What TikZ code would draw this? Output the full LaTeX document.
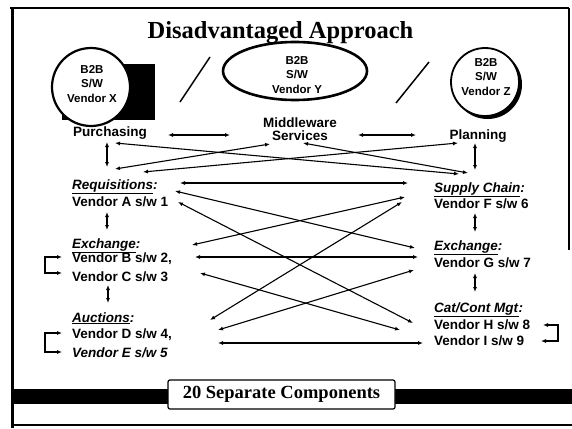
\documentclass[tikz,border=0pt]{standalone}
\usepackage{fontspec}
\setmainfont{Liberation Serif}
\setsansfont{Liberation Sans}
\usetikzlibrary{arrows.meta}
\begin{document}
\begin{tikzpicture}[x=1pt,y=-1pt,
  lbl/.style={font=\sffamily\bfseries\fontsize{13.5}{15}\selectfont, inner sep=0pt, anchor=base west},
  ctr/.style={font=\sffamily\bfseries\fontsize{13.5}{13.5}\selectfont, inner sep=0pt, align=center},
  bub/.style={font=\sffamily\bfseries\fontsize{11.5}{14.5}\selectfont, align=center, inner sep=0pt},
  arr/.style={{Latex[length=5pt,width=4pt]}-{Latex[length=5pt,width=4pt]}, line width=1.1pt},
  brk/.style={{Latex[length=5pt,width=4pt]}-{Latex[length=5pt,width=4pt]}, line width=1.1pt},
  frame/.style={line width=1.6pt}
]
\useasboundingbox (0,0) rectangle (572,428);
\fill[white] (0,0) rectangle (572,428);

% frame
\draw[line width=3pt] (12,8) -- (12,428);
\draw[line width=2pt] (10,8) -- (569,8);
\draw[frame] (569,8) -- (569,250);
\draw[line width=1.2pt] (12,425) -- (572,425);

% bottom bar and box
\fill[black] (12,389) rectangle (572,404);
\node[draw, line width=1.2pt, fill=white, rounded corners=2pt, minimum width=227pt, minimum height=29pt,
      font=\rmfamily\bfseries\fontsize{18.5}{20}\selectfont, inner sep=0pt] (comp) at (281.5,394.5) {20 Separate Components};

% title
\node[font=\rmfamily\bfseries\fontsize{24.5}{28}\selectfont, inner sep=0pt, anchor=base] (title) at (280.5,38) {Disadvantaged Approach};

% bubbles
\fill[black] (62,64) rectangle (155,120);
\node[draw, line width=2.2pt, fill=white, circle, minimum size=78pt, inner sep=0pt] (cx) at (91,87) {};
\node[bub] (cxt) at (92,84) {B2B\\S/W\\Vendor X};

\draw[line width=2.6pt] (295,71) ellipse [x radius=72, y radius=29];
\node[bub] (cyt) at (297,75) {B2B\\S/W\\Vendor Y};

\fill[black] (487.5,84.5) circle (34.5);
\node[draw, line width=1.8pt, fill=white, circle, minimum size=68pt, inner sep=0pt] (cz) at (485,82) {};
\node[bub] (czt) at (486,77) {B2B\\S/W\\Vendor Z};

% slashes
\coordinate (s1a) at (180,102); \coordinate (s1b) at (210,57);
\coordinate (s2a) at (396,103); \coordinate (s2b) at (429,62);
\draw[line width=1.5pt] (s1a) -- (s1b);
\draw[line width=1.5pt] (s2a) -- (s2b);

% top labels
\node[ctr] (purch) at (110,133) {Purchasing};
\node[ctr] (mw) at (300,129) {Middleware\\Services};
\node[ctr] (plan) at (478,136) {Planning};

% left column
\node[lbl] (req) at (72,189) {\underline{\textit{Requisitions}}\textit{:}};
\node[lbl] (va) at (72,206) {Vendor A s/w 1};
\node[lbl] (exl) at (72,248) {\underline{\textit{Exchange}}\textit{:}};
\node[lbl] (vb) at (72,262) {Vendor B s/w 2,};
\node[lbl] (vc) at (72,281) {Vendor C s/w 3};
\node[lbl] (auc) at (72,322) {\underline{\textit{Auctions}}\textit{:}};
\node[lbl] (vd) at (72,338) {Vendor D s/w 4,};
\node[lbl] (ve) at (72,357) {\textit{Vendor E s/w 5}};

% right column
\node[lbl] (sc) at (434,192) {\underline{\textit{Supply Chain}}\textit{:}};
\node[lbl] (vf) at (434,208) {Vendor F s/w 6};
\node[lbl] (exr) at (434,250) {\underline{\textit{Exchange}}\textit{:}};
\node[lbl] (vg) at (434,267) {Vendor G s/w 7};
\node[lbl] (cat) at (434,312) {\underline{\textit{Cat/Cont Mgt}}\textit{:}};
\node[lbl] (vh) at (434,329) {Vendor H s/w 8};
\node[lbl] (vi) at (434,345) {Vendor I s/w 9};

% connector end points
\coordinate (pm1) at (168,135); \coordinate (pm2) at (230,135);
\coordinate (mp1) at (358,135); \coordinate (mp2) at (416,135);
\coordinate (l1a) at (107,142); \coordinate (l1b) at (107,167);
\coordinate (l2a) at (107,212); \coordinate (l2b) at (107,230);
\coordinate (l3a) at (108,285); \coordinate (l3b) at (108,303);
\coordinate (r1a) at (475,143); \coordinate (r1b) at (475,170);
\coordinate (r2a) at (475,213); \coordinate (r2b) at (475,232);
\coordinate (r3a) at (475,273); \coordinate (r3b) at (475,292);

\draw[arr] (pm1) -- (pm2);
\draw[arr] (mp1) -- (mp2);
\foreach \p in {l1,l2,l3,r1,r2,r3} \draw[arr] (\p a) -- (\p b);

% brackets
\coordinate (bB) at (62,257); \coordinate (bC) at (62,273);
\coordinate (bD) at (62,333); \coordinate (bE) at (62,352);
\coordinate (bH) at (543,325); \coordinate (bI) at (541,341);
\draw[brk] (bB) -| (45,265) |- (bC);
\draw[brk] (bD) -| (45,342) |- (bE);
\draw[brk] (bH) -| (558,333) |- (bI);

% crossing connectors
\coordinate (a1) at (115,143); \coordinate (a2) at (459,174);
\coordinate (b1) at (115,169); \coordinate (b2) at (270,144);
\coordinate (c1) at (143,172); \coordinate (c2) at (458,143);
\coordinate (d1) at (303,143); \coordinate (d2) at (468,173);
\coordinate (f1) at (180,183); \coordinate (f2) at (408,183);
\coordinate (g1) at (175,191); \coordinate (g2) at (415,248);
\coordinate (h1) at (178,202); \coordinate (h2) at (413,323);
\coordinate (i1) at (192,245); \coordinate (i2) at (405,197);
\coordinate (j1) at (195,257); \coordinate (j2) at (418,257);
\coordinate (k1) at (210,320); \coordinate (k2) at (402,202);
\coordinate (l1) at (200,273); \coordinate (l2) at (400,330);
\coordinate (m1) at (218,330); \coordinate (m2) at (414,270);
\coordinate (n1) at (218,343); \coordinate (n2) at (423,343);
\foreach \p in {a,b,c,d,f,g,h,i,j,k,l,m,n} \draw[arr] (\p1) -- (\p2);
\end{tikzpicture}
\end{document}
